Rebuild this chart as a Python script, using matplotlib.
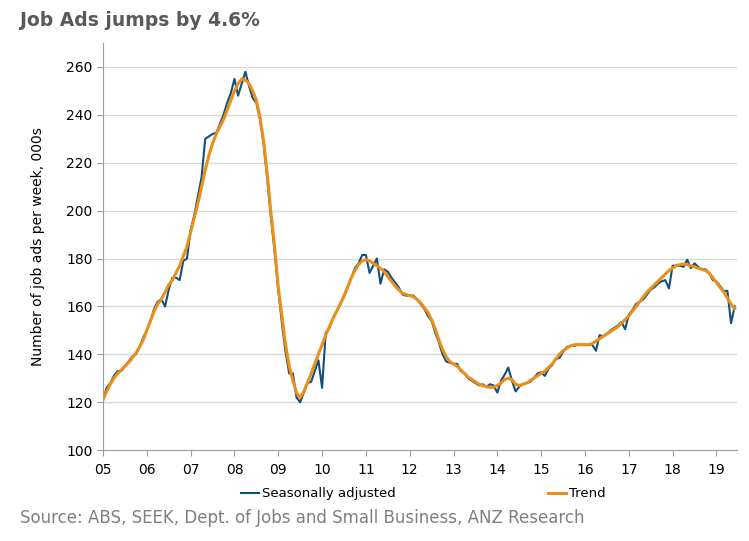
import numpy as np
import matplotlib
matplotlib.use('Agg')
import matplotlib.pyplot as plt

# Monthly data, Jan 2005 - Jun 2019 (000s of job ads per week)
years = list(range(2005, 2020))

sa = [
    # 2005
    121, 126, 128, 131, 133, 133, 135, 137, 139, 140, 143, 147,
    # 2006
    150, 154, 159, 162, 163, 160, 167, 172, 172, 171, 179, 180,
    # 2007
    192, 198, 206, 214, 230, 231, 232, 232.5, 236, 240, 245, 249,
    # 2008
    255, 248, 253, 258, 252, 247, 245, 238, 228, 213, 197, 183,
    # 2009
    167, 153, 141, 132, 132, 122, 120, 124, 128, 128.5, 133, 137.5,
    # 2010
    126, 149, 151, 155, 158, 161, 164, 168, 172, 176, 178, 181.5,
    # 2011
    181.5, 174, 177, 180, 169.5, 175.5, 174.5, 172, 170, 168, 165, 164.5,
    # 2012
    164.5, 164.5, 163, 161, 159, 156, 154, 149, 145, 140, 137, 136.5,
    # 2013
    136, 136, 133, 132, 130, 129, 128, 127, 127.5, 126.5, 127.5, 127,
    # 2014
    124, 129, 131.5, 134.5, 129, 124.5, 126.5, 127.5, 128, 128.5, 130, 132,
    # 2015
    132.5, 131, 134, 135.5, 138, 138.5, 141, 143, 143.5, 143.5, 144, 144,
    # 2016
    144, 144, 144, 141.5, 148, 147.5, 148.5, 150, 151, 152, 153.5, 150.5,
    # 2017
    156.5, 158.5, 161, 162, 163, 165, 167, 168, 169.5, 170.5, 171, 167.5,
    # 2018
    177, 177, 177, 176.5, 179.5, 176, 178, 176.5, 175.5, 175.5, 174, 171,
    # 2019
    170.5, 168.5, 166.5, 166.5, 153, 160,
]

trend = [
    # 2005
    121, 124.5, 127.5, 130, 132, 133.5, 135, 136.5, 138.5, 140.5, 143, 146,
    # 2006
    150, 154, 158, 161, 163, 166, 169, 171, 174, 177, 181, 185,
    # 2007
    191, 197, 203, 210, 217, 223, 228, 232, 235, 238, 242, 246,
    # 2008
    250, 253, 255, 254.5, 253, 250, 246, 239, 229, 215, 199, 185,
    # 2009
    168, 156, 144, 135, 129, 124, 122, 124.5, 128, 132, 136, 140,
    # 2010
    144, 148, 151.5, 155, 158, 161, 164.5, 168, 172, 175, 177.5, 179,
    # 2011
    179.5, 179, 178, 177, 176, 174.5, 172.5, 170.5, 168.5, 167, 165.5, 165,
    # 2012
    164.5, 164, 163, 161.5, 159.5, 157.5, 154.5, 150.5, 146, 142, 139, 137,
    # 2013
    136, 135, 133.5, 132, 130.5, 129.5, 128.5, 127.5, 127, 126.5, 126.2, 126.3,
    # 2014
    127, 128, 129.5, 130, 129.5, 127.5, 127, 127.5, 128, 129, 130, 131,
    # 2015
    132, 133, 134.5, 136, 138, 140, 141.5, 142.5, 143.5, 144, 144, 144,
    # 2016
    144, 144, 144.5, 145.5, 146.5, 147.5, 148.5, 149.5, 150.5, 151.5, 153, 154.5,
    # 2017
    156, 158, 160, 162, 164, 166, 167.5, 169, 170.5, 172, 173.5, 175,
    # 2018
    176, 177, 177.5, 177.7, 177.5, 177, 176.5, 176, 175.5, 175, 174, 172,
    # 2019
    170, 168, 166, 163.5, 161, 159,
]

tick_labels = ['05', '06', '07', '08', '09', '10', '11', '12', '13', '14',
               '15', '16', '17', '18', '19']

# x position in years (05 = Jan 2005)
t = 5 + np.arange(len(sa)) / 12.0

plt.rcParams['font.family'] = ['DejaVu Sans']

fig = plt.figure(figsize=(7.49, 5.41), dpi=100)
ax = fig.add_axes([0.1375, 0.168, 0.8465, 0.7525])

ax.grid(True, axis='y', color='#D9D9D9', linewidth=1)
ax.set_axisbelow(True)

l1, = ax.plot(t, sa, color='#124F7A', linewidth=1.5, label='Seasonally adjusted')
l2, = ax.plot(t, trend, color='#EA8F1A', linewidth=2.2, label='Trend')

ax.set_ylim(100, 270)
ax.set_yticks(range(100, 261, 20))
ax.set_xlim(5, 19.47)
ax.set_xticks(range(5, 20))
ax.set_xticklabels(tick_labels)

for s in ['top', 'right']:
    ax.spines[s].set_visible(False)
for s in ['left', 'bottom']:
    ax.spines[s].set_color('#A0A0A0')
ax.tick_params(axis='both', colors='#A0A0A0', labelcolor='black', labelsize=10,
               length=4, direction='out')
ax.tick_params(axis='x', pad=5)

ax.set_ylabel('Number of job ads per week, 000s', fontsize=10, labelpad=15)

fig.text(0.027, 0.962, 'Job Ads jumps by 4.6%', fontsize=13.5, fontweight='bold',
         color='#595959', va='center', ha='left')

fig.legend(handles=[l1, l2], loc='center', bbox_to_anchor=(0.565, 0.087), ncol=2,
           frameon=False, fontsize=9.5, handlelength=1.4, handletextpad=0.2,
           columnspacing=11.5)

fig.text(0.027, 0.042, 'Source: ABS, SEEK, Dept. of Jobs and Small Business, ANZ Research',
         fontsize=12, color='#7F7F7F', va='center', ha='left')

plt.savefig('out.png', dpi=100)
